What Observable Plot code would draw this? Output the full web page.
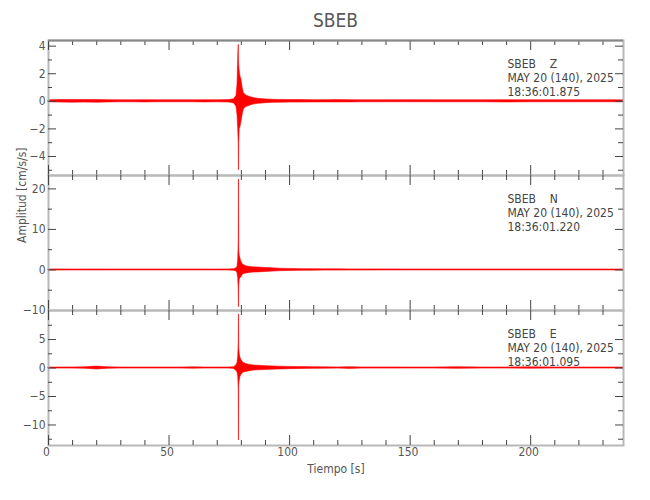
<!DOCTYPE html>
<html><head><meta charset="utf-8">
<script src="https://cdn.jsdelivr.net/npm/d3@7"></script>
<script src="https://cdn.jsdelivr.net/npm/@observablehq/plot@0.6"></script>
<style>
body{margin:0;background:#fff;}
#chart{position:relative;width:650px;height:500px;font-family:"Liberation Sans Narrow","DejaVu Sans Condensed","Liberation Sans",sans-serif;color:#555;}
#title{position:absolute;left:48px;width:575px;top:11px;text-align:center;font-size:19px;line-height:19px;color:#5a5a5a;}
.panel{position:absolute;left:0;}
</style></head><body>
<div id="chart"><div id="title">SBEB</div></div>
<script>
// Time samples (s) of the read envelope
const times = [0,5,10,15,20,25,30,35,40,45,50,55,60,65,70,75,77,78,78.4,78.7,78.9,79.0,79.1,79.3,79.6,80,80.5,81,82,83.5,85,87,90,93,96,100,105,110,115,120,125,130,140,150,160,170,180,190,200,210,220,230,238.5];
// Z component envelope (cm/s/s)
const zHi = [0.07,0.09,0.1,0.09,0.1,0.08,0.07,0.07,0.08,0.07,0.07,0.07,0.07,0.08,0.07,0.09,0.15,0.4,1.2,3.2,4.1,3.0,2.6,2.2,1.8,1.6,1.0,0.6,0.42,0.32,0.24,0.18,0.14,0.11,0.1,0.09,0.09,0.08,0.08,0.09,0.08,0.07,0.07,0.08,0.07,0.07,0.07,0.08,0.07,0.07,0.07,0.07,0.07];
const zLo = [-0.07,-0.09,-0.1,-0.09,-0.1,-0.08,-0.07,-0.07,-0.08,-0.07,-0.07,-0.07,-0.07,-0.08,-0.07,-0.09,-0.15,-0.4,-1.0,-2.0,-3.1,-5.0,-3.0,-2.0,-1.9,-1.5,-1.0,-0.6,-0.42,-0.32,-0.24,-0.18,-0.14,-0.11,-0.1,-0.09,-0.09,-0.08,-0.08,-0.08,-0.08,-0.07,-0.07,-0.07,-0.07,-0.07,-0.07,-0.08,-0.07,-0.07,-0.07,-0.07,-0.07];
// N component envelope
const nHi = [0.12,0.14,0.12,0.12,0.14,0.12,0.12,0.12,0.12,0.12,0.12,0.12,0.12,0.12,0.12,0.14,0.2,0.4,0.8,2.5,6.8,22.3,5.0,3.5,2.8,2.0,1.5,1.2,0.9,0.75,0.65,0.6,0.5,0.4,0.3,0.25,0.2,0.18,0.15,0.15,0.14,0.14,0.14,0.12,0.12,0.12,0.12,0.12,0.12,0.12,0.12,0.12,0.12];
const nLo = [-0.12,-0.14,-0.12,-0.12,-0.14,-0.12,-0.12,-0.12,-0.12,-0.12,-0.12,-0.12,-0.12,-0.12,-0.12,-0.14,-0.2,-0.4,-0.8,-2.0,-5.2,-9.2,-4.0,-2.5,-2.0,-1.8,-1.3,-1.0,-0.9,-0.75,-0.65,-0.6,-0.5,-0.4,-0.3,-0.25,-0.2,-0.18,-0.15,-0.15,-0.14,-0.14,-0.12,-0.12,-0.12,-0.12,-0.12,-0.12,-0.12,-0.12,-0.12,-0.12,-0.12];
// E component envelope
const eHi = [0.09,0.09,0.1,0.12,0.25,0.12,0.09,0.09,0.09,0.09,0.09,0.09,0.12,0.09,0.09,0.1,0.15,0.5,0.9,2.0,4.3,9.4,3.5,2.5,1.8,1.4,1.1,0.9,0.7,0.55,0.45,0.4,0.33,0.28,0.24,0.2,0.16,0.14,0.12,0.1,0.15,0.1,0.1,0.09,0.09,0.14,0.09,0.09,0.12,0.09,0.09,0.09,0.09];
const eLo = [-0.09,-0.09,-0.1,-0.12,-0.25,-0.12,-0.09,-0.09,-0.09,-0.09,-0.09,-0.09,-0.12,-0.09,-0.09,-0.1,-0.15,-0.5,-0.8,-1.5,-3.6,-12.7,-3.0,-2.2,-1.6,-1.2,-1.0,-0.8,-0.7,-0.55,-0.45,-0.4,-0.33,-0.28,-0.24,-0.2,-0.16,-0.14,-0.12,-0.1,-0.15,-0.1,-0.1,-0.09,-0.09,-0.14,-0.09,-0.09,-0.12,-0.09,-0.09,-0.09,-0.09];

const xDomain = [0, 238.5];
const xMajor = [0,50,100,150,200];
const xMinor = [10,20,30,40,60,70,80,90,110,120,130,140,160,170,180,190,210,220,230];

const zDomain = [-5.38, 4.41], zMajor = [-4,-2,0,2,4], zMinor = [-5,-3,-1,1,3];
const nDomain = [-10, 23.3], nMajor = [-10,0,10,20], nMinor = [-5,5,15];
const eDomain = [-13.6, 10.1], eMajor = [-10,-5,0,5], eMinor = [-12.5,-7.5,-2.5,2.5,7.5];

const stationLabels = [
  "SBEB\u00a0\u00a0\u00a0\u00a0Z\nMAY 20 (140), 2025\n18:36:01.875",
  "SBEB\u00a0\u00a0\u00a0\u00a0N\nMAY 20 (140), 2025\n18:36:01.220",
  "SBEB\u00a0\u00a0\u00a0\u00a0E\nMAY 20 (140), 2025\n18:36:01.095"
];
const yLabel = "Amplitud [cm/s/s]";
const xLabel = "Tiempo [s]";

const fmt = d => d < 0 ? "\u2212" + (-d) : String(d);

const cfgs = [
  {lo: zLo, hi: zHi, domain: zDomain, major: zMajor, minor: zMinor},
  {lo: nLo, hi: nHi, domain: nDomain, major: nMajor, minor: nMinor},
  {lo: eLo, hi: eHi, domain: eDomain, major: eMajor, minor: eMinor}
];

const ML = 48, MR = 27, PH = 135, W = 650 - ML - MR;
const chart = document.getElementById("chart");
cfgs.forEach((cfg, i) => {
  const mt = 12, mb = i === 2 ? 45 : 12;
  const data = times.map((t, k) => ({t, lo: cfg.lo[k], hi: cfg.hi[k]}));
  const tick = "#444";
  const marks = [
    Plot.areaY(data, {x: "t", y1: "lo", y2: "hi", fill: "#ff0000", stroke: "#ff0000", strokeWidth: 0.6}),
    Plot.frame({stroke: "#b8b8b8", strokeWidth: 2}),
    Plot.ruleX(xMinor, {x: d => d, stroke: tick, insetTop: PH - 5}),
    Plot.ruleX(xMajor, {x: d => d, stroke: tick, insetTop: PH - 10}),
    Plot.ruleX(xMinor, {x: d => d, stroke: tick, insetBottom: PH - 5}),
    Plot.ruleX(xMajor, {x: d => d, stroke: tick, insetBottom: PH - 10}),
    Plot.ruleY(cfg.minor, {y: d => d, stroke: tick, insetRight: W - 4}),
    Plot.ruleY(cfg.major, {y: d => d, stroke: tick, insetRight: W - 8}),
    Plot.ruleY(cfg.minor, {y: d => d, stroke: tick, insetLeft: W - 5}),
    Plot.ruleY(cfg.major, {y: d => d, stroke: tick, insetLeft: W - 8}),
    Plot.axisY(cfg.major, {anchor: "left", tickSize: 0, tickPadding: 3, tickFormat: fmt, label: null, fontSize: 12}),
    Plot.text([stationLabels[i]], {text: d => d, frameAnchor: "top-right", dx: -116, dy: 17, textAnchor: "start", lineAnchor: "top", lineHeight: 1.18, fontSize: 12, fill: "#444"})
  ];
  if (i === 0) marks.push(Plot.ruleY([cfg.domain[1]], {y: d => d, stroke: "#888", strokeWidth: 2}));
  if (i === 1) marks.push(Plot.text([yLabel], {text: d => d, frameAnchor: "left", rotate: -90, dx: -26, fontSize: 12}));
  if (i === 2) {
    marks.push(Plot.axisX(xMajor, {anchor: "bottom", tickSize: 0, tickPadding: 2, dx: -2, label: null, fontSize: 12}));
    marks.push(Plot.text([xLabel], {text: d => d, frameAnchor: "bottom", dy: 27, fontSize: 12}));
  }
  const svg = Plot.plot({
    width: 650, height: PH + mt + mb,
    marginLeft: ML, marginRight: MR, marginTop: mt, marginBottom: mb,
    x: {domain: xDomain, axis: null},
    y: {domain: cfg.domain, axis: null},
    style: {background: "transparent", overflow: "visible", color: "#555", fontFamily: "'Liberation Sans Narrow','DejaVu Sans Condensed','Liberation Sans',sans-serif", fontSize: "12px"},
    marks
  });
  svg.classList.add("panel");
  svg.style.top = (40 + PH * i - mt) + "px";
  chart.appendChild(svg);
});
</script>
</body></html>
